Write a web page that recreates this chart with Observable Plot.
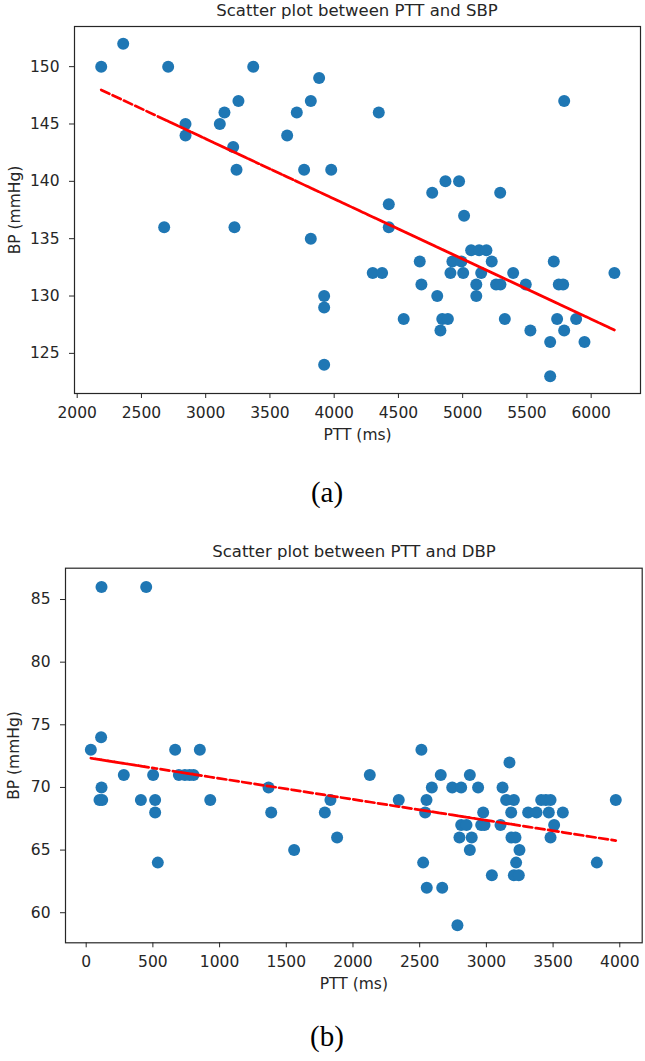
<!DOCTYPE html>
<html><head><meta charset="utf-8">
<script src="https://cdn.jsdelivr.net/npm/d3@7"></script>
<script src="https://cdn.jsdelivr.net/npm/@observablehq/plot@0.6"></script>
<style>
body{margin:0;background:#fff;width:645px;height:1061px;position:relative;overflow:hidden;font-family:"DejaVu Sans";}
.abs{position:absolute;}
.title{font-family:"DejaVu Sans";font-size:16.5px;color:#262626;white-space:nowrap;transform:translate(-50%,-50%);line-height:1;}
.cap{font-family:"Liberation Serif";font-size:29px;color:#000;white-space:nowrap;transform:translate(-50%,-50%);line-height:1;}
</style></head><body>
<script>
// ---- Chart (a): PTT vs SBP ----
const sbpPTT = [2187,2358,2708,3370,2843,2843,3110,3146,3255,3214,3240,3634,3709,3818,3883,3766,3977,4347,5790,4866,4972,4763,5292,4425,5011,4425,5066,5128,5185,5226,4666,4920,4990,4905,5004,4300,4373,5144,5393,6181,4679,5106,5260,5294,5491,5748,5782,5709,5106,4802,4541,4841,4885,5328,5735,5883,4827,5527,5790,5681,5948,5681,2677,3224,3818,3922,3922,3922];
const sbpValues = [150,152,150,150,145,144,145,146,147,143,141,144,146,147,149,141,141,146,147,140,140,139,139,138,137,136,134,134,134,133,133,133,133,132,132,132,132,132,132,132,131,131,131,131,131,131,131,133,130,130,128,128,128,128,128,128,127,127,127,126,126,123,136,136,135,130,129,124];
const sbpFit = [159.43, -0.005241]; // intercept, slope
const sbpXTicks = [2000,2500,3000,3500,4000,4500,5000,5500,6000];
const sbpYTicks = [125,130,135,140,145,150];

// ---- Chart (b): PTT vs DBP ----
const dbpPTT = [115,450,35,112,282,115,100,120,410,517,517,502,537,667,852,695,740,775,805,930,1367,1387,1559,1789,1831,1881,2126,2343,2513,2551,2541,2526,2553,2669,2591,2658,2744,2811,2876,2938,2783,2811,2851,2798,2890,2876,2976,2961,2986,3041,3106,3121,3173,3148,3206,3186,3188,3218,3248,3223,3206,3243,3313,3376,3411,3446,3481,3468,3508,3481,3573,3828,3970];
const dbpValues = [86,86,73,74,71,70,69,69,69,69,68,71,64,73,73,71,71,71,71,69,70,68,65,68,69,66,71,69,73,69,68,64,62,62,70,71,70,70,71,70,59,67,67,66,66,65,68,67,67,63,67,70,72,69,69,68,66,66,65,64,63,63,68,68,69,69,69,68,67,66,68,64,69];
const dbpFit = [72.39, -0.001671];
const dbpXTicks = [0,500,1000,1500,2000,2500,3000,3500,4000];
const dbpYTicks = [60,65,70,75,80,85];

const titles = ["Scatter plot between PTT and SBP", "Scatter plot between PTT and DBP"];
const captions = ["(a)", "(b)"];

function scatter({xs, ys, fit, xDomain, yDomain, xTicks, yTicks, margins, height, yLabelOffset}) {
  const pts = xs.map((x, i) => ({x, y: ys[i]}));
  const line = pts.map(d => ({x: d.x, y: fit[0] + fit[1] * d.x}));
  return Plot.plot({
    width: 645, height,
    ...margins,
    style: {fontFamily: "DejaVu Sans", fontSize: "15.5px", color: "#262626", background: "transparent", overflow: "visible"},
    x: {domain: xDomain},
    y: {domain: yDomain},
    marks: [
      Plot.dot(pts, {x: "x", y: "y", r: 6, fill: "#1f77b4", stroke: "none"}),
      Plot.line(line, {x: "x", y: "y", stroke: "red", strokeWidth: 2.7, strokeDasharray: "9,3.5"}),
      Plot.frame({stroke: "#262626", strokeWidth: 1.2}),
      Plot.axisX({ticks: xTicks, tickFormat: d => String(d), tickSize: 5, tickPadding: 8, fontSize: 15.5, label: "PTT (ms)", labelAnchor: "center", labelArrow: "none", labelOffset: 46}),
      Plot.axisY({ticks: yTicks, tickFormat: d => String(d), tickSize: 5, tickPadding: 10, fontSize: 15.5, label: "BP (mmHg)", labelAnchor: "center", labelArrow: "none", labelOffset: yLabelOffset})
    ]
  });
}

function place(el, left, top) {
  el.classList.add("abs");
  el.style.left = left + "px";
  el.style.top = top + "px";
  document.body.appendChild(el);
}
function textDiv(txt, cls, x, y) {
  const d = document.createElement("div");
  d.className = cls;
  d.textContent = txt;
  place(d, x, y);
}

const a = scatter({xs: sbpPTT, ys: sbpValues, fit: sbpFit, xDomain: [1979, 6384], yDomain: [121.5, 153.5],
  xTicks: sbpXTicks, yTicks: sbpYTicks, height: 460, yLabelOffset: 66,
  margins: {marginTop: 26, marginBottom: 67, marginLeft: 74, marginRight: 5}});
place(a, 0, 0);

const b = scatter({xs: dbpPTT, ys: dbpValues, fit: dbpFit, xDomain: [-155, 4168], yDomain: [57.6, 87.5],
  xTicks: dbpXTicks, yTicks: dbpYTicks, height: 480, yLabelOffset: 58,
  margins: {marginTop: 37.7, marginBottom: 67.7, marginLeft: 65, marginRight: 3.3}});
place(b, 0, 530);

textDiv(titles[0], "title", 357, 11);
textDiv(titles[1], "title", 354, 552);
textDiv(captions[0], "cap", 327, 492);
textDiv(captions[1], "cap", 327, 1036);
</script>
</body></html>
